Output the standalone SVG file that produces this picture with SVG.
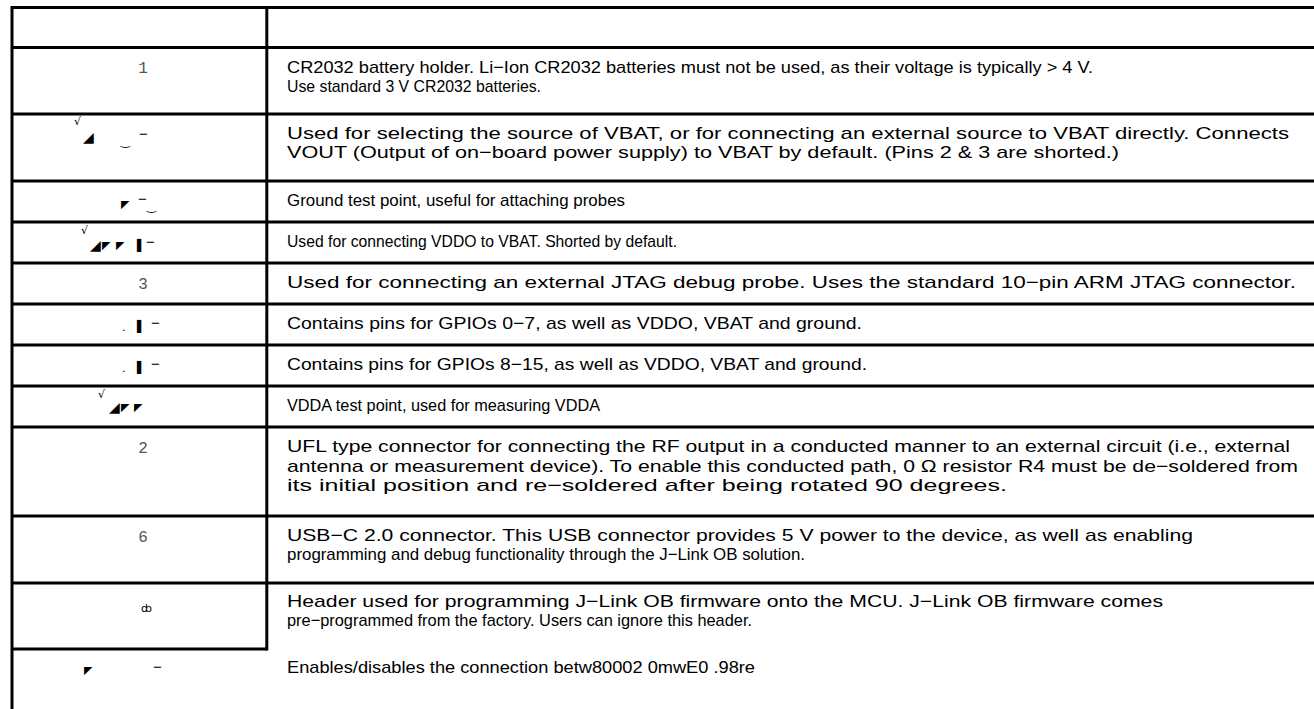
<svg xmlns="http://www.w3.org/2000/svg" width="1314" height="709" viewBox="0 0 1314 709">
<style>
.g{stroke:#000;stroke-width:3;fill:none}
.t{font-family:"Liberation Sans",Arial,sans-serif;font-size:17px;fill:#000}
.n{font-family:"Liberation Mono","Courier New",monospace;font-size:16px;fill:#555;text-anchor:middle}
.k{font-family:"DejaVu Sans",sans-serif;font-size:11px;fill:#000}
.w{font-family:"DejaVu Sans",sans-serif;font-size:14px;fill:#000}
.s{font-family:"DejaVu Sans",sans-serif;font-size:11px;fill:#000}
.d{font-family:"Liberation Sans",Arial,sans-serif;font-size:15px;fill:#000}
</style>
<rect width="1314" height="709" fill="#fff"/>
<g id="grid">
<line class="g" x1="12" y1="7.5" x2="1314" y2="7.5"/>
<line class="g" x1="12" y1="47.5" x2="1314" y2="47.5"/>
<line class="g" x1="12" y1="114" x2="1314" y2="114"/>
<line class="g" x1="12" y1="181" x2="1314" y2="181"/>
<line class="g" x1="12" y1="222" x2="1314" y2="222"/>
<line class="g" x1="12" y1="263" x2="1314" y2="263"/>
<line class="g" x1="12" y1="304" x2="1314" y2="304"/>
<line class="g" x1="12" y1="345" x2="1314" y2="345"/>
<line class="g" x1="12" y1="386" x2="1314" y2="386"/>
<line class="g" x1="12" y1="427" x2="1314" y2="427"/>
<line class="g" x1="12" y1="516" x2="1314" y2="516"/>
<line class="g" x1="12" y1="583" x2="1314" y2="583"/>
<line class="g" x1="12" y1="649" x2="267" y2="649"/>
<line class="g" x1="12" y1="6" x2="12" y2="709"/>
<line class="g" x1="266.8" y1="6" x2="266.8" y2="650.5"/>
</g>
<g id="row1">
<text class="n" x="143" y="73">1</text>
<text class="t" x="287" y="72.5" textLength="806" lengthAdjust="spacingAndGlyphs">CR2032 battery holder. Li−Ion CR2032 batteries must not be used, as their voltage is typically &gt; 4 V.</text>
<text class="t" x="287" y="91.5" textLength="254" lengthAdjust="spacingAndGlyphs">Use standard 3 V CR2032 batteries.</text>
</g>
<g id="row2">
<text class="k" x="74" y="125">√</text>
<text class="w" x="83" y="142">◢</text>
<text class="s" x="121" y="145">‿</text>
<text class="d" x="139" y="139">−</text>
<text class="t" x="287" y="139" textLength="1002" lengthAdjust="spacingAndGlyphs">Used for selecting the source of VBAT, or for connecting an external source to VBAT directly. Connects</text>
<text class="t" x="287" y="158" textLength="832" lengthAdjust="spacingAndGlyphs">VOUT (Output of on−board power supply) to VBAT by default. (Pins 2 &amp; 3 are shorted.)</text>
</g>
<g id="row3">
<text class="s" x="121" y="208">◤</text>
<text class="d" x="138" y="204">−</text>
<text class="s" x="147" y="210">‿</text>
<text class="t" x="287" y="206" textLength="338" lengthAdjust="spacingAndGlyphs">Ground test point, useful for attaching probes</text>
</g>
<g id="row4">
<text class="k" x="81" y="234">√</text>
<text class="w" x="90" y="250">◢</text>
<text class="s" x="102" y="249">◤</text>
<text class="s" x="116" y="249">◤</text>
<text class="s" x="137" y="249">▌</text>
<text class="d" x="146" y="247">−</text>
<text class="t" x="287" y="247" textLength="390" lengthAdjust="spacingAndGlyphs">Used for connecting VDDO to VBAT. Shorted by default.</text>
</g>
<g id="row5">
<text class="n" x="143" y="289">3</text>
<text class="t" x="287" y="288" textLength="1009" lengthAdjust="spacingAndGlyphs">Used for connecting an external JTAG debug probe. Uses the standard 10−pin ARM JTAG connector.</text>
</g>
<g id="row6">
<text class="k" x="122" y="331">.</text>
<text class="s" x="137" y="330">▌</text>
<text class="d" x="151" y="328">−</text>
<text class="t" x="287" y="329" textLength="575" lengthAdjust="spacingAndGlyphs">Contains pins for GPIOs 0−7, as well as VDDO, VBAT and ground.</text>
</g>
<g id="row7">
<text class="k" x="122" y="372">.</text>
<text class="s" x="137" y="371">▌</text>
<text class="d" x="151" y="369">−</text>
<text class="t" x="287" y="370" textLength="580" lengthAdjust="spacingAndGlyphs">Contains pins for GPIOs 8−15, as well as VDDO, VBAT and ground.</text>
</g>
<g id="row8">
<text class="k" x="98" y="398">√</text>
<text class="w" x="109" y="412">◢</text>
<text class="s" x="121" y="411">◤</text>
<text class="s" x="134" y="411">◤</text>
<text class="t" x="287" y="411" textLength="313" lengthAdjust="spacingAndGlyphs">VDDA test point, used for measuring VDDA</text>
</g>
<g id="row9">
<text class="n" x="143" y="453">2</text>
<text class="t" x="287" y="452" textLength="1003" lengthAdjust="spacingAndGlyphs">UFL type connector for connecting the RF output in a conducted manner to an external circuit (i.e., external</text>
<text class="t" x="287" y="472" textLength="1011" lengthAdjust="spacingAndGlyphs">antenna or measurement device). To enable this conducted path, 0 Ω resistor R4 must be de−soldered from</text>
<text class="t" x="287" y="491" textLength="720" lengthAdjust="spacingAndGlyphs">its initial position and re−soldered after being rotated 90 degrees.</text>
</g>
<g id="row10">
<text class="n" x="143" y="542">6</text>
<text class="t" x="287" y="541" textLength="906" lengthAdjust="spacingAndGlyphs">USB−C 2.0 connector. This USB connector provides 5 V power to the device, as well as enabling</text>
<text class="t" x="287" y="560" textLength="518" lengthAdjust="spacingAndGlyphs">programming and debug functionality through the J−Link OB solution.</text>
</g>
<g id="row11">
<text class="s" x="141" y="612">ȸ</text>
<text class="t" x="287" y="607" textLength="876" lengthAdjust="spacingAndGlyphs">Header used for programming J−Link OB firmware onto the MCU. J−Link OB firmware comes</text>
<text class="t" x="287" y="626" textLength="465" lengthAdjust="spacingAndGlyphs">pre−programmed from the factory. Users can ignore this header.</text>
</g>
<g id="row12">
<text class="s" x="84" y="674">◤</text>
<text class="d" x="153" y="672">−</text>
<text class="t" x="287" y="673" textLength="468" lengthAdjust="spacingAndGlyphs">Enables/disables the connection betw80002 0mwE0 .98re</text>
</g>
</svg>
